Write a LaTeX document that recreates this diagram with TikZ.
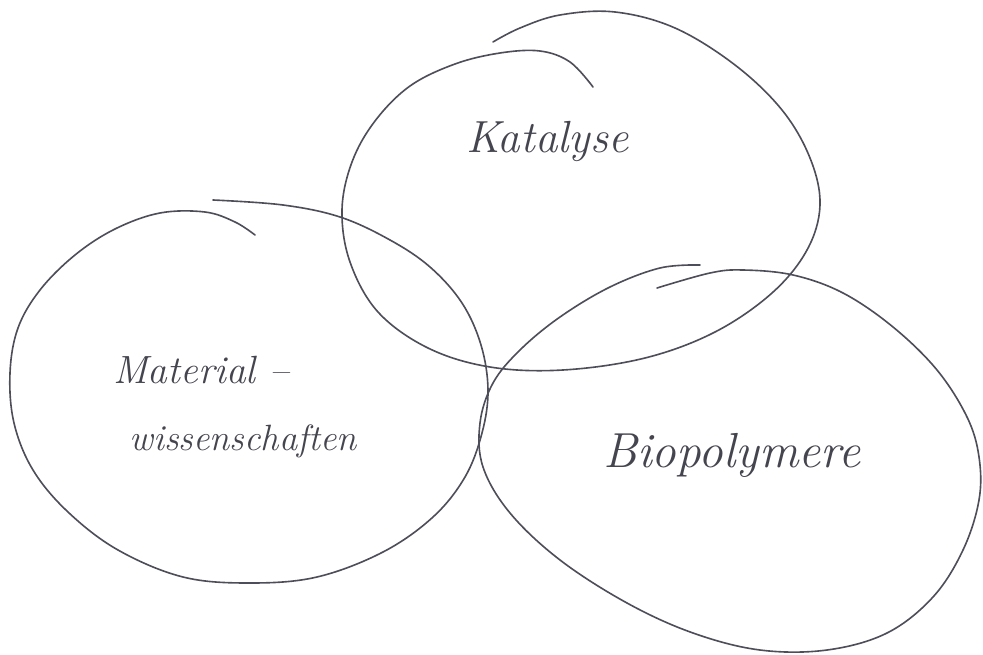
\documentclass[tikz,border=0pt]{standalone}
\usepackage{fontspec}
\definecolor{pen}{HTML}{4E4E5A}
\definecolor{ink}{HTML}{45454F}
\tikzset{
  loop/.style={draw=pen, line width=1.15pt, line cap=round, line join=round},
  hand/.style={text=ink, inner sep=0pt, font=\itshape}
}
\begin{document}
\begin{tikzpicture}[x=0.025cm, y=-0.025cm]
\useasboundingbox (0,0) rectangle (983,655);
% Katalyse loop (top)
\draw[loop] plot[smooth, tension=0.6] coordinates {
 (593,87) (570,62) (540,51) (500,53) (455,64) (410,86) (375,121) (352,162)
 (342,210) (350,262) (378,312) (428,348) (490,367) (563,370) (645,358)
 (715,332) (772,293) (807,250) (820,205) (810,158) (782,110) (735,65)
 (675,28) (615,12) (560,15) (520,28) (493,42)};
% Materialwissenschaften loop (left)
\draw[loop] plot[smooth, tension=0.6] coordinates {
 (213,200) (283,205) (340,217) (390,240) (430,267) (462,303) (481,345)
 (488,390) (482,433) (465,477) (433,517) (383,552) (317,577) (250,583)
 (183,577) (118,550) (68,512) (33,470) (14,423) (10,373) (18,328) (40,290)
 (75,255) (115,229) (160,213) (205,212) (235,222) (255,235)};
% Biopolymere loop (bottom right)
\draw[loop] plot[smooth, tension=0.6] coordinates {
 (657,288) (710,273) (743,270) (793,275) (843,293) (893,327) (937,370)
 (967,417) (979,457) (979,500) (963,550) (933,597) (887,633) (827,650)
 (760,650) (693,633) (627,603) (560,560) (510,513) (483,467) (480,423)
 (493,383) (520,350) (560,317) (610,287) (660,268) (700,265)};
% labels
\node[hand, anchor=base west, font=\itshape\fontsize{32}{36}\selectfont] (kat) at (466,153) {Katalyse};
\node[hand, anchor=base west, font=\itshape\fontsize{35}{40}\selectfont] (bio) at (603,467) {Biopolymere};
\node[hand, anchor=base west, font=\itshape\fontsize{28}{32}\selectfont] (mat1) at (113,383) {Material –};
\node[hand, anchor=base west, font=\itshape\fontsize{26}{30}\selectfont] (mat2) at (129,450) {wissenschaften};
\end{tikzpicture}
\end{document}
